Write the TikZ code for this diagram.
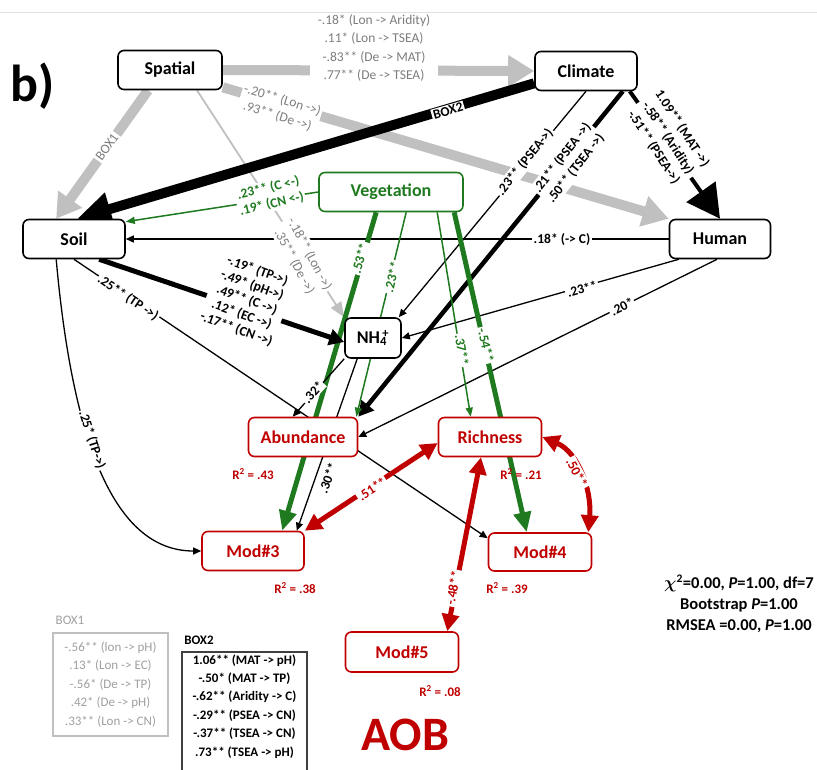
\documentclass[tikz,border=0pt]{standalone}
\usepackage{fontspec}
\setmainfont{Carlito}
\usepackage{bm}
\usetikzlibrary{arrows.meta}
\definecolor{vgreen}{RGB}{31,122,31}
\definecolor{dred}{RGB}{192,0,0}
\definecolor{lgray}{RGB}{192,192,192}
\definecolor{tgray}{RGB}{125,125,125}
\definecolor{bgray}{RGB}{160,160,160}
\pgfdeclarelayer{edges}
\pgfdeclarelayer{labels}
\pgfsetlayers{edges,labels,main}
\begin{document}
\begin{tikzpicture}[x=1pt,y=-1pt,
 box/.style={draw=black,line width=1.6pt,rounded corners=6pt,fill=white,inner sep=0pt,minimum height=39pt,font=\fontsize{18}{20}\selectfont\bfseries},
 rbox/.style={box,draw=dred,text=dred},
 gbox/.style={box,draw=vgreen,text=vgreen},
 lab/.style={fill=white,inner sep=1.5pt,align=center,font=\fontsize{13.5}{15.5}\selectfont\bfseries},
 glab/.style={lab,text=tgray,font=\fontsize{13.5}{17}\selectfont},
 grlab/.style={lab,text=vgreen},
 rlab/.style={lab,text=dred},
 rsq/.style={text=dred,font=\fontsize{13}{15}\selectfont\bfseries,inner sep=0pt},
 garrow/.style={draw=lgray,line width=10pt,-{Triangle[length=26pt,width=30pt]}},
 bigblack/.style={draw=black,line width=10pt,-{Triangle[length=34pt,width=32pt]}},
 midblack/.style={draw=black,line width=5pt,-{Triangle[length=15pt,width=16pt]}},
 thinblack/.style={draw=black,line width=1.3pt,-{Triangle[length=8pt,width=7pt]}},
 thickgreen/.style={draw=vgreen,line width=5pt,-{Triangle[length=20pt,width=17pt]}},
 thingreen/.style={draw=vgreen,line width=1.5pt,-{Triangle[length=9pt,width=7pt]}},
 redboth/.style={draw=dred,line width=5pt,{Triangle[length=17pt,width=17pt]}-{Triangle[length=17pt,width=17pt]}},
]
\useasboundingbox (0,0) rectangle (817,769);

% ---------- nodes ----------
\node[box,minimum width=104pt] (spatial) at (170,70) {Spatial};
\node[box,minimum width=102pt] (climate) at (586,71) {Climate};
\node[box,minimum width=102pt] (soil) at (74,239) {Soil};
\node[box,minimum width=101pt] (human) at (720,239) {Human};
\node[gbox,minimum width=144pt] (veg) at (391,192) {Vegetation};
\node[box,minimum width=56pt,minimum height=40pt] (nh4) at (373,338) {NH\textsubscript{4}\kern-0.25em\textsuperscript{+}};
\node[rbox,minimum width=109pt] (abund) at (303,437) {Abundance};
\node[rbox,minimum width=103pt] (rich) at (490,437) {Richness};
\node[rbox,minimum width=102pt] (mod3) at (253,551) {Mod\#3};
\node[rbox,minimum width=103pt,minimum height=38pt] (mod4) at (540,552) {Mod\#4};
\node[rbox,minimum width=113pt,minimum height=40pt] (mod5) at (402,652) {Mod\#5};

\node[font=\fontsize{52}{52}\selectfont\bfseries,inner sep=0pt] (blabel) at (33,86) {b)};
\node[text=dred,font=\fontsize{48}{48}\selectfont\bfseries,inner sep=0pt] (aob) at (405,735) {AOB};

\node[rsq] (r43) at (253,474) {R\textsuperscript{2} = .43};
\node[rsq] (r21) at (521,474) {R\textsuperscript{2} = .21};
\node[rsq] (r38) at (295,588) {R\textsuperscript{2} = .38};
\node[rsq] (r39) at (507,588) {R\textsuperscript{2} = .39};
\node[rsq] (r08) at (440,691) {R\textsuperscript{2} = .08};

\node[align=center,font=\fontsize{16.5}{21}\selectfont\bfseries,inner sep=0pt] (stats) at (739,604)
 {$\bm{\chi}$\textsuperscript{2}=0.00, \textit{P}=1.00, df=7\\Bootstrap \textit{P}=1.00\\RMSEA =0.00, \textit{P}=1.00};

\node[text=bgray,font=\fontsize{13}{15}\selectfont,inner sep=0pt] (box1t) at (70,620) {BOX1};
\node[draw=lgray,line width=1.3pt,minimum width=115pt,minimum height=103pt,align=center,text=bgray,
      font=\fontsize{13}{18.5}\selectfont,inner sep=0pt] (box1) at (110.5,684.5)
 {-.56** (lon -> pH)\\.13* (Lon -> EC)\\-.56* (De -> TP)\\.42* (De -> pH)\\.33** (Lon -> CN)};
\node[font=\fontsize{13}{15}\selectfont\bfseries,inner sep=0pt] (box2t) at (199,640) {BOX2};
\node[draw=black!75,line width=1.3pt,minimum width=125pt,minimum height=128pt,align=center,
      font=\fontsize{13}{18.4}\selectfont\bfseries,inner sep=0pt] (box2) at (244.5,716)
 {1.06** (MAT -> pH)\\-.50* (MAT -> TP)\\-.62** (Aridity -> C)\\-.29** (PSEA -> CN)\\-.37** (TSEA -> CN)\\.73** (TSEA -> pH)\\[3pt]};

% ---------- edges ----------
\begin{pgfonlayer}{edges}
\fill[white] (-2,-2) rectangle (819,771);
\draw[black!12,line width=0.8pt] (0,12) -- (817,12);
% spatial
\draw[garrow] (spatial.east) -- (climate.west);
\draw[garrow] ([yshift=3pt]spatial.south east) -- (human.north west);
\draw[garrow,-{Triangle[length=24pt,width=28pt]}] ([xshift=-22pt]spatial.south) -- ([xshift=34pt]soil.north west);
\draw[draw=lgray,line width=1.8pt,-{Triangle[length=15pt,width=12pt]}] ([xshift=27pt]spatial.south) -- (nh4.north west);
% climate
\draw[bigblack] ([yshift=8pt]climate.south west) -- ([xshift=55pt]soil.north west);
\draw[draw=black,line width=4pt,-{Triangle[length=33pt,width=35pt]}] ([xshift=-8pt]climate.south east) -- (human.north);
\draw[thinblack] (climate.south) -- ([xshift=-3pt]nh4.north east);
\draw[midblack,line width=4.5pt] ([xshift=-15pt]climate.south east) -- (abund.north east);
% human
\draw[thinblack] (human.west) -- (soil.east);
\draw[thinblack] ([xshift=10pt]human.south west) -- (nh4.east);
\draw[thinblack] ([xshift=-3pt]human.south) -- (abund.east);
% vegetation
\draw[thingreen] (veg.west) -- ([yshift=-3pt]soil.north east);
\draw[thickgreen] ([xshift=58pt]veg.south west) -- ([xshift=81pt]mod3.north west);
\draw[thingreen] ([xshift=88pt]veg.south west) -- ([xshift=-2pt]abund.north east);
\draw[thingreen] ([xshift=119pt]veg.south west) -- ([xshift=33pt]rich.north west);
\draw[thickgreen] ([xshift=136pt]veg.south west) -- ([xshift=39pt]mod4.north west);
% soil
\draw[midblack] ([xshift=77pt]soil.south west) -- ([yshift=-4pt]nh4.west);
\draw[thinblack] (soil.south) -- ([yshift=-6pt]mod4.north west);
\draw[thinblack] ([xshift=34pt]soil.south west) .. controls (75,470) and (125,551) .. (mod3.west);
% nh4
\draw[thinblack] (nh4.south west) -- ([xshift=45pt]abund.north west);
\draw[thinblack] ([xshift=13pt]nh4.south west) -- ([xshift=-8pt]mod3.north east);
% red
\draw[redboth] (mod3.north east) -- ([yshift=-6pt]rich.west);
\draw[redboth] (rich.east) .. controls (578,452) and (592,490) .. ([xshift=-4pt]mod4.north east);
\draw[redboth] ([xshift=-12pt]mod5.north east) -- ([xshift=-9pt]rich.south);
\end{pgfonlayer}

% ---------- labels ----------
\begin{pgfonlayer}{labels}
\node[glab,font=\fontsize{13.5}{18.3}\selectfont,inner xsep=8pt] (lsc) at (374,48)
 {-.18* (Lon -> Aridity)\\.11* (Lon -> TSEA)\\-.83** (De -> MAT)\\.77** (De -> TSEA)};
\node[glab,rotate=-17] (lsh) at (280,108) {-.20** (Lon ->)\\.93** (De ->)};
\node[glab,rotate=54] (lb1) at (107,147) {BOX1};
\node[lab,rotate=16] (lb2) at (448,111) {BOX2};
\node[glab,rotate=-62] (lsn) at (302,258) {-.18** (Lon ->)\\.35** (De ->)};
\node[lab,rotate=-57,font=\fontsize{13.5}{17}\selectfont\bfseries] (lch) at (668,138)
 {1.09** (MAT ->)\\-.58** (Aridity)\\-.51** (PSEA->)};
\node[lab,rotate=51] (lcn) at (525,162) {.23** (PSEA->)};
\node[lab,rotate=52,font=\fontsize{13.5}{17}\selectfont\bfseries] (lca) at (569,163) {.21** (PSEA ->)\\.50** (TSEA ->)};
\node[grlab,rotate=13,font=\fontsize{13.5}{16}\selectfont\bfseries] (lvs) at (270,196) {.23** (C <-)\\.19* (CN <-)};
\node[lab] (lhs) at (562,240) {.18* (-> C)};
\node[lab,rotate=16] (lhn) at (582,289) {.23**};
\node[lab,rotate=26] (lha) at (622,307) {.20*};
\node[lab,rotate=-20] (lsnh) at (247,300) {-.19* (TP->)\\-.49* (pH->)\\.49** (C ->)\\.12* (EC ->)\\-.17** (CN ->)};
\node[lab,rotate=-34] (lsm4) at (128,298) {.25** (TP ->)};
\node[lab,rotate=-72] (lsm3) at (92,440) {.25* (TP->)};
\node[grlab,rotate=74] (lv53) at (360,258) {.53**};
\node[grlab,rotate=76] (lv23) at (392,277) {.23**};
\node[grlab,rotate=-81] (lv37) at (462,350) {.37**};
\node[grlab,rotate=-77] (lv54) at (486,345) {-.54**};
\node[lab,rotate=48] (ln32) at (313,392) {.32*};
\node[lab,rotate=69] (ln30) at (328,478) {.30**};
\node[rlab,rotate=34] (lr51) at (372,489) {.51**};
\node[rlab,rotate=-62] (lr50) at (577,473) {.50**};
\node[rlab,rotate=79] (lr48) at (453,588) {-.48**};
\end{pgfonlayer}
\end{tikzpicture}
\end{document}
